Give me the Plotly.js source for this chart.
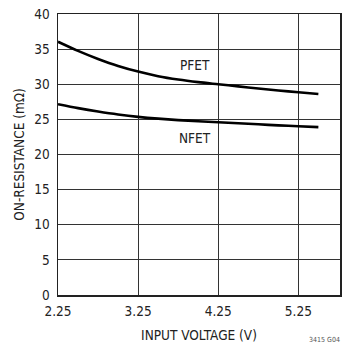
<!DOCTYPE html>
<html>
<head>
<meta charset="utf-8">
<script src="https://cdn.plot.ly/plotly-3.0.1.min.js"></script>
<style>html,body{margin:0;padding:0;background:#fff;}#chart{width:347px;height:343px;}</style>
</head>
<body>
<div id="chart"></div>
<script>
const voltage = [2.25, 2.5, 2.75, 3.0, 3.25, 3.5, 3.75, 4.0, 4.25, 4.5, 4.75, 5.0, 5.25, 5.5];
const pfet = [36.05, 34.75, 33.6, 32.6, 31.8, 31.15, 30.67, 30.3, 30.0, 29.7, 29.4, 29.12, 28.86, 28.62];
const nfet = [27.15, 26.6, 26.12, 25.7, 25.36, 25.1, 24.9, 24.74, 24.6, 24.45, 24.3, 24.15, 24.02, 23.9];
const xTicks = [2.25, 3.25, 4.25, 5.25];
const yTicks = [0, 5, 10, 15, 20, 25, 30, 35, 40];
const seriesLabels = ["PFET", "NFET"];
const figNote = "3415 G04";

const font = "'DejaVu Sans Condensed', 'Liberation Sans Narrow', 'Arial Narrow', sans-serif";
const data = [
  {x: voltage, y: pfet, mode: 'lines', line: {color: '#000', width: 2.6, shape: 'spline', smoothing: 0.8}, hoverinfo: 'skip'},
  {x: voltage, y: nfet, mode: 'lines', line: {color: '#000', width: 2.6, shape: 'spline', smoothing: 0.8}, hoverinfo: 'skip'}
];
const tf = {size: 13.5, family: font, color: '#222'};
const layout = {
  width: 347, height: 343,
  margin: {l: 58, r: 7, t: 14, b: 48},
  paper_bgcolor: '#fff', plot_bgcolor: '#fff',
  showlegend: false,
  font: tf,
  xaxis: {
    range: [2.25, 5.77], tickvals: xTicks, ticktext: xTicks.map(v => v.toFixed(2)),
    showgrid: true, gridcolor: '#333', gridwidth: 1, zeroline: false,
    showline: true, linecolor: '#222', linewidth: 1.5, mirror: true,
    ticks: '', ticklen: 0, ticklabelstandoff: 3, tickfont: tf,
    title: {text: 'INPUT VOLTAGE (V)', font: tf, standoff: 13}
  },
  yaxis: {
    range: [0, 40], tickvals: yTicks,
    showgrid: true, gridcolor: '#333', gridwidth: 1, zeroline: false,
    showline: true, linecolor: '#222', linewidth: 1.5, mirror: true,
    ticks: '', ticklen: 0, ticklabelstandoff: 4, tickfont: tf,
    title: {text: 'ON-RESISTANCE (mΩ)', font: tf, standoff: 6}
  },
  annotations: [
    {x: 3.96, y: 32.7, xref: 'x', yref: 'y', text: seriesLabels[0], showarrow: false, xanchor: 'center', font: tf},
    {x: 3.96, y: 22.35, xref: 'x', yref: 'y', text: seriesLabels[1], showarrow: false, xanchor: 'center', font: tf},
    {x: 1, y: 0, xref: 'paper', yref: 'paper', xanchor: 'right', yanchor: 'top', yshift: -39, xshift: 2, text: figNote, showarrow: false, font: {size: 7, family: font, color: '#555'}}
  ]
};
Plotly.newPlot('chart', data, layout, {staticPlot: true, displayModeBar: false});
</script>
</body>
</html>
